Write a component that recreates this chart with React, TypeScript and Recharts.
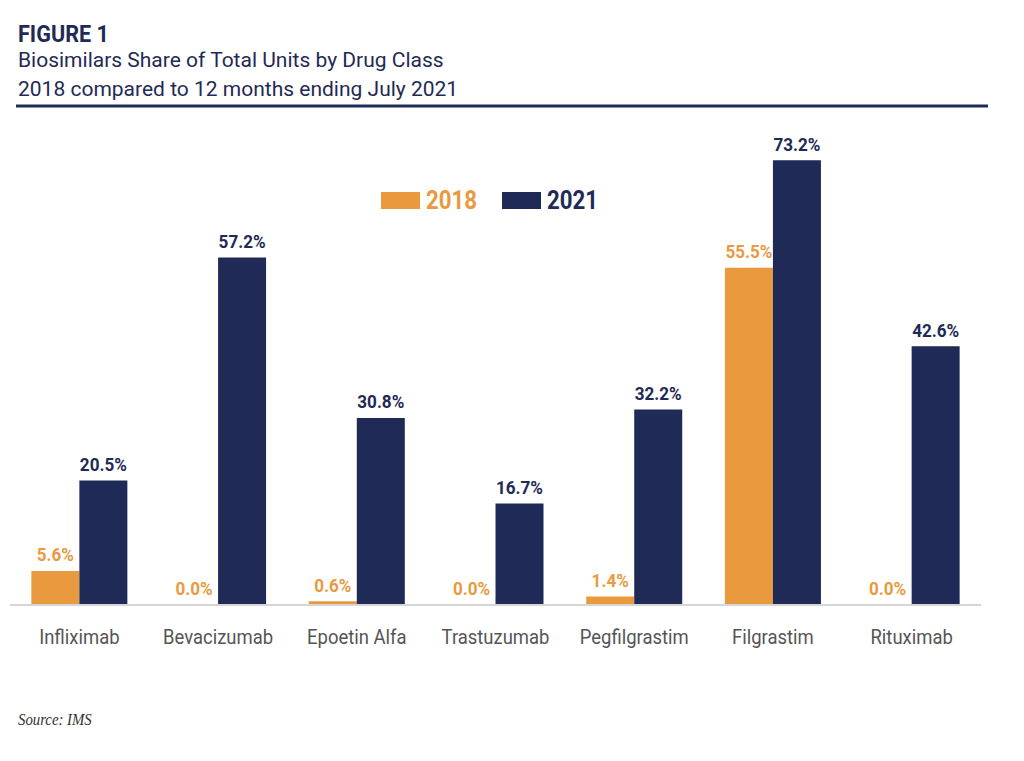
import React from 'react';
import { BarChart, Bar, XAxis, YAxis, LabelList } from 'recharts';

const drugs = ['Infliximab', 'Bevacizumab', 'Epoetin Alfa', 'Trastuzumab', 'Pegfilgrastim', 'Filgrastim', 'Rituximab'];
const share2018 = [5.6, 0.0, 0.6, 0.0, 1.4, 55.5, 0.0];
const share2021 = [20.5, 57.2, 30.8, 16.7, 32.2, 73.2, 42.6];
const seriesNames = ['2018', '2021'];

const ORANGE = '#E99A3F';
const NAVY = '#1F2A56';
const FONT = 'Roboto, "Noto Sans", sans-serif';

const data = drugs.map((name, i) => ({ name, y2018: share2018[i], y2021: share2021[i] }));

const pct = (v: any) => `${Number(v).toFixed(1)}%`;

// condensed-looking tick: scale roboto horizontally
const DrugTick = (props: any) => {
  const { x, y, payload } = props;
  return (
    <g transform={`translate(${x},${y + 39})`}>
      <text transform="scale(0.9,1)" textAnchor="middle" fontSize={20.5} fill="#555" fontFamily={FONT}>
        {payload.value}
      </text>
    </g>
  );
};

const makeLabel = (color: string) => (props: any) => {
  const { x, y, width, value } = props;
  if (value == null) return null;
  return (
    <g transform={`translate(${x + width / 2},${y - 9.5})`}>
      <text transform="scale(0.9,1)" textAnchor="middle" fontSize={19} fontWeight={700} fill={color} fontFamily={FONT}>
        {pct(value)}
      </text>
    </g>
  );
};

// keep zero bars in the list (so their labels show) without drawing anything visible
const tinyForZero = (v: any) => (Number(v) === 0 ? 0.001 : 0);

export default function App() {
  return (
    <div style={{ position: 'absolute', left: 0, top: 0, width: 1024, height: 761, background: '#fff', overflow: 'hidden' }}>
      <div style={{ position: 'absolute', left: 0, top: 0 }}>
        <BarChart
          width={1024}
          height={761}
          data={data}
          margin={{ top: 119, right: 43, bottom: 126, left: 10 }}
          barCategoryGap="15.4%"
          barGap={0}
        >
          <XAxis
            dataKey="name"
            height={30}
            axisLine={{ stroke: '#d6d6d6', strokeWidth: 2 }}
            tickLine={false}
            tickSize={0}
            tickMargin={0}
            interval={0}
            tick={<DrugTick />}
          />
          <YAxis hide domain={[0, 80]} />
          <Bar dataKey="y2018" name={seriesNames[0]} fill={ORANGE} minPointSize={tinyForZero} isAnimationActive={false}>
            <LabelList dataKey="y2018" content={makeLabel(ORANGE)} />
          </Bar>
          <Bar dataKey="y2021" name={seriesNames[1]} fill={NAVY} isAnimationActive={false}>
            <LabelList dataKey="y2021" content={makeLabel(NAVY)} />
          </Bar>
        </BarChart>
      </div>
      <svg width={1024} height={761} style={{ position: 'absolute', left: 0, top: 0, pointerEvents: 'none' }}>
        <text transform="translate(18,41.5) scale(0.92,1)" fontFamily={FONT} fontWeight={700} fontSize={23.5} fill={NAVY}>
          FIGURE 1
        </text>
        <text x={18} y={66.7} fontFamily={FONT} fontSize={21} fill={NAVY}>
          Biosimilars Share of Total Units by Drug Class
        </text>
        <text x={18} y={96} fontFamily={FONT} fontSize={21} fill={NAVY}>
          2018 compared to 12 months ending July 2021
        </text>
        <rect x={16} y={104.5} width={972} height={3} fill={NAVY} />
        {seriesNames.map((s, i) => {
          const left = i === 0 ? 381 : 502;
          const color = i === 0 ? ORANGE : NAVY;
          return (
            <g key={s}>
              <rect x={left} y={192} width={39} height={17} fill={color} />
              <text transform={`translate(${left + 45},209) scale(0.89,1)`} fontFamily={FONT} fontWeight={700} fontSize={25} fill={color}>
                {s}
              </text>
            </g>
          );
        })}
        <text transform="translate(18,725) scale(0.87,1)" fontFamily='"Liberation Serif", serif' fontStyle="italic" fontSize={17} fill="#333">
          Source: IMS
        </text>
      </svg>
    </div>
  );
}
